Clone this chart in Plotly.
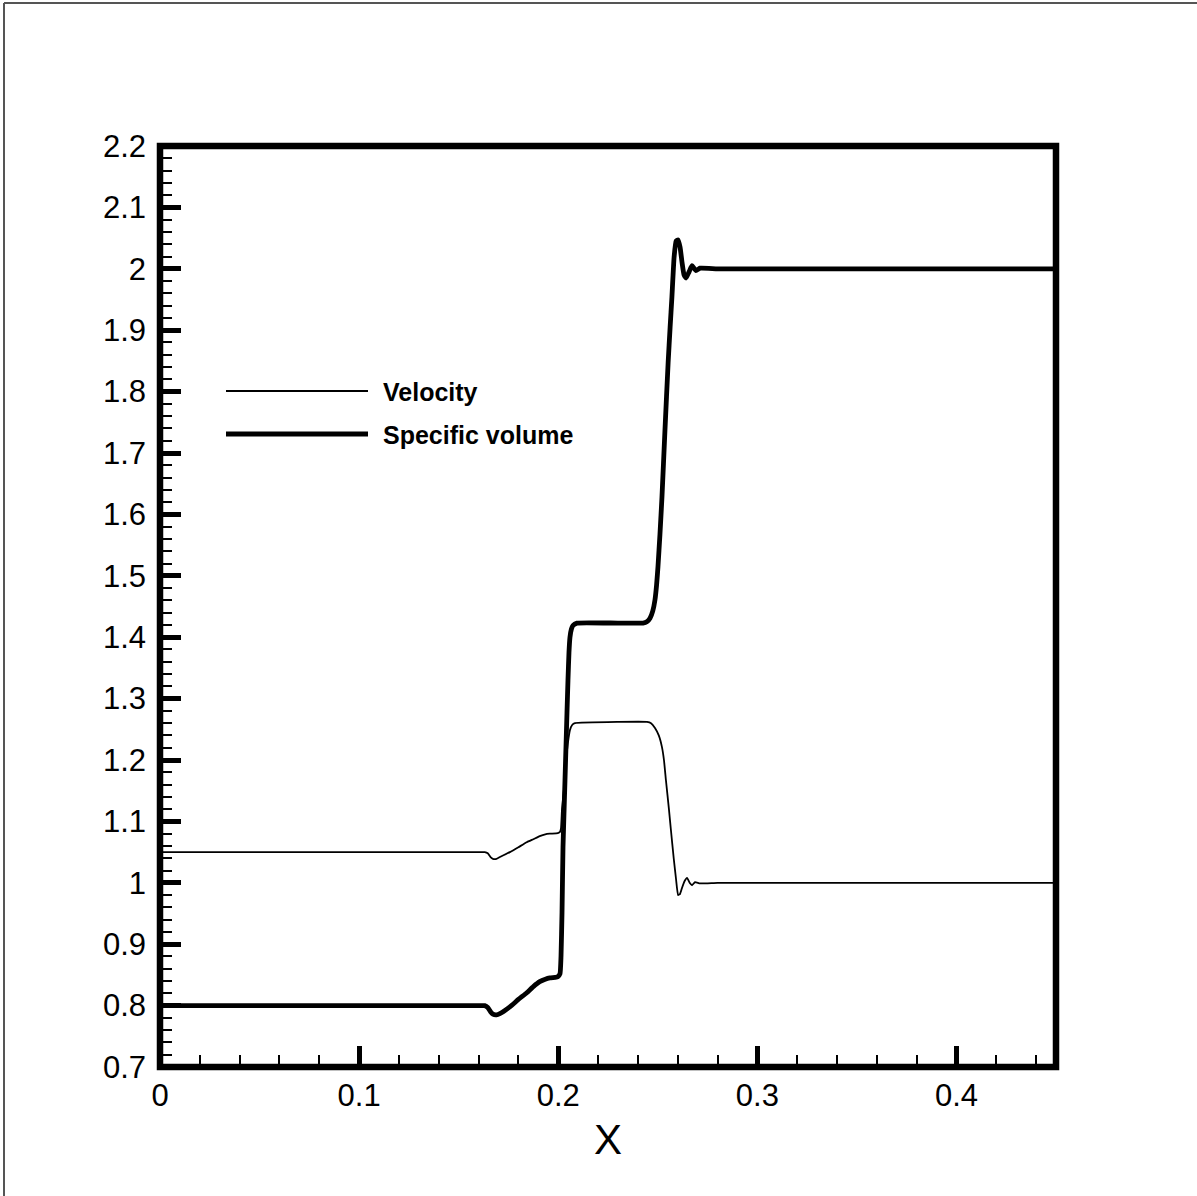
import plotly.graph_objects as go

# ---------------- data ----------------
vol_x = [0.0, 0.1500, 0.1600, 0.1631, 0.1646, 0.1660, 0.1672, 0.1690, 0.1707, 0.1757, 0.1800, 0.1842,
         0.1875, 0.1907, 0.1935, 0.1958, 0.1985, 0.1998,
         0.2009, 0.2014, 0.2019, 0.2024, 0.2034, 0.2044, 0.2049, 0.2054, 0.2059,
         0.2066, 0.2074, 0.2094, 0.2300,
         0.2426, 0.2445, 0.2461, 0.2475, 0.2486, 0.2494, 0.2501, 0.2511, 0.2521,
         0.2536, 0.2552, 0.2562, 0.2571, 0.2582, 0.2592,
         0.2602, 0.2612, 0.2622, 0.2632, 0.2642, 0.2657, 0.2672, 0.2692, 0.2712,
         0.2800, 0.3000, 0.45]
vol_y = [0.800, 0.800, 0.800, 0.800, 0.797, 0.790, 0.786, 0.785, 0.787, 0.798, 0.810, 0.821,
         0.831, 0.839, 0.843, 0.845, 0.846, 0.847,
         0.852, 0.880, 0.951, 1.058, 1.167, 1.277, 1.330, 1.375, 1.400,
         1.413, 1.419, 1.423, 1.423,
         1.423, 1.425, 1.431, 1.443, 1.461, 1.485, 1.515, 1.568, 1.628,
         1.737, 1.847, 1.905, 1.954, 2.019, 2.045,
         2.047, 2.035, 2.010, 1.990, 1.985, 1.995, 2.005, 1.997, 2.001,
         2.000, 2.000, 2.000]

vel_x = [0.0, 0.1500, 0.1600, 0.1631, 0.1646, 0.1660, 0.1672, 0.1690, 0.1707, 0.1757, 0.1800, 0.1842,
         0.1875, 0.1907, 0.1935, 0.1958, 0.1998,
         0.2009, 0.2014, 0.2019, 0.2034, 0.2044, 0.2052, 0.2059, 0.2070, 0.2084, 0.2300,
         0.2446, 0.2466, 0.2486, 0.2505, 0.2521, 0.2531, 0.2541, 0.2556, 0.2566,
         0.2580, 0.2592, 0.2602, 0.2612, 0.2622, 0.2635, 0.2647, 0.2660, 0.2672, 0.2687,
         0.2712, 0.2800, 0.3000, 0.45]
vel_y = [1.050, 1.050, 1.050, 1.050, 1.048, 1.042, 1.039, 1.039, 1.042, 1.050, 1.058, 1.066,
         1.071, 1.076, 1.079, 1.080, 1.081,
         1.083, 1.089, 1.120, 1.170, 1.215, 1.236, 1.249, 1.257, 1.260, 1.262,
         1.262, 1.260, 1.252, 1.240, 1.221, 1.200, 1.167, 1.120, 1.086,
         1.040, 1.005, 0.980, 0.982, 0.992, 1.003, 1.008, 1.000, 0.996, 1.001,
         0.999, 1.000, 1.000, 1.000]

x_tick_vals = [0, 0.1, 0.2, 0.3, 0.4]
x_tick_text = ["0", "0.1", "0.2", "0.3", "0.4"]
y_tick_vals = [0.7, 0.8, 0.9, 1.0, 1.1, 1.2, 1.3, 1.4, 1.5, 1.6, 1.7, 1.8, 1.9, 2.0, 2.1, 2.2]
y_tick_text = ["0.7", "0.8", "0.9", "1", "1.1", "1.2", "1.3", "1.4", "1.5", "1.6",
               "1.7", "1.8", "1.9", "2", "2.1", "2.2"]
series_names = ["Velocity", "Specific volume"]

# ---------------- figure ----------------
W, H = 1197, 1196
L, R, T, B = 160, 141, 146, 129
pw, ph = W - L - R, H - T - B

def px2paper_x(px):
    return (px - L) / pw

def py2paper_y(py):
    return 1 - (py - T) / ph

fig = go.Figure()
fig.add_trace(go.Scatter(x=vel_x, y=vel_y, mode="lines", name=series_names[0],
                         line=dict(color="black", width=1.8, shape="spline", smoothing=0.4),
                         showlegend=False))
fig.add_trace(go.Scatter(x=vol_x, y=vol_y, mode="lines", name=series_names[1],
                         line=dict(color="black", width=4.8, shape="spline", smoothing=0.4),
                         showlegend=False))

font = "Liberation Sans, Arial, sans-serif"
common_axis = dict(showgrid=False, zeroline=False, showline=False,
                   ticks="inside", tickcolor="black", tickwidth=5, ticklen=21,
                   tickfont=dict(family=font, size=31, color="black"))

fig.update_xaxes(range=[0, 0.45], tickvals=x_tick_vals, ticktext=x_tick_text,
                 minor=dict(dtick=0.02, tick0=0, ticks="inside", ticklen=12,
                            tickwidth=1.5, tickcolor="black"),
                 title=dict(text="X", font=dict(family=font, size=42, color="black"),
                            standoff=12),
                 ticklabelstandoff=7,
                 **common_axis)
fig.update_yaxes(range=[0.7, 2.2], tickvals=y_tick_vals, ticktext=y_tick_text,
                 minor=dict(dtick=0.02, tick0=0.7, ticks="inside", ticklen=12,
                            tickwidth=2, tickcolor="black"),
                 ticklabelstandoff=13,
                 **common_axis)

shapes = [
    # plot frame
    dict(type="rect", xref="paper", yref="paper", x0=0, x1=1, y0=0, y1=1,
         line=dict(color="black", width=6.5), layer="above"),
    # outer image border (left and top)
    dict(type="line", xref="paper", yref="paper",
         x0=px2paper_x(4), x1=px2paper_x(4), y0=py2paper_y(1300), y1=py2paper_y(3),
         line=dict(color="#555555", width=2)),
    dict(type="line", xref="paper", yref="paper",
         x0=px2paper_x(4), x1=px2paper_x(1300), y0=py2paper_y(3), y1=py2paper_y(3),
         line=dict(color="#555555", width=2)),
    # legend samples
    dict(type="line", xref="paper", yref="paper",
         x0=px2paper_x(226), x1=px2paper_x(368), y0=py2paper_y(391), y1=py2paper_y(391),
         line=dict(color="black", width=1.8)),
    dict(type="line", xref="paper", yref="paper",
         x0=px2paper_x(226), x1=px2paper_x(368), y0=py2paper_y(434), y1=py2paper_y(434),
         line=dict(color="black", width=4.8)),
]

annotations = [
    dict(xref="paper", yref="paper", x=px2paper_x(381), y=py2paper_y(392),
         text="<b>%s</b>" % series_names[0], showarrow=False, xanchor="left",
         yanchor="middle", font=dict(family=font, size=25, color="black")),
    dict(xref="paper", yref="paper", x=px2paper_x(381), y=py2paper_y(435),
         text="<b>%s</b>" % series_names[1], showarrow=False, xanchor="left",
         yanchor="middle", font=dict(family=font, size=25, color="black")),
]

fig.update_layout(width=W, height=H, margin=dict(l=L, r=R, t=T, b=B, pad=0),
                  paper_bgcolor="white", plot_bgcolor="white",
                  shapes=shapes, annotations=annotations, showlegend=False)

fig.write_html("out.html")
